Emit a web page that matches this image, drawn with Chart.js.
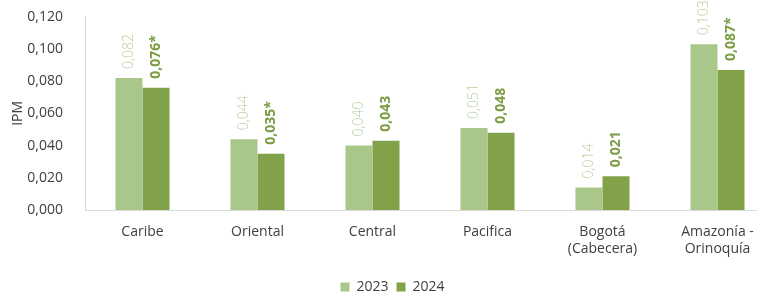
<!DOCTYPE html>
<html>
<head>
<meta charset="utf-8">
<script src="https://cdn.jsdelivr.net/npm/chart.js@4"></script>
<style>
  html, body { margin: 0; padding: 0; background: #fff; overflow: hidden; }
  #wrap { width: 775px; height: 295px; }
</style>
</head>
<body>
<div id="wrap"><canvas id="ipm-chart" width="775" height="295"></canvas></div>
<script>
// Regions and IPM values
var regions = ["Caribe", "Oriental", "Central", "Pacifica", ["Bogotá", "(Cabecera)"], ["Amazonía -", "Orinoquía"]];
var ipm2023 = [0.082, 0.044, 0.040, 0.051, 0.014, 0.103];
var ipm2024 = [0.076, 0.035, 0.043, 0.048, 0.021, 0.087];
// 2024 values flagged with an asterisk (significant change)
var signif2024 = [true, true, false, false, false, true];
var yTicks = [0, 0.02, 0.04, 0.06, 0.08, 0.1, 0.12];

var fontName = "'Open Sans', sans-serif";

function fmt(v) {
  return v.toFixed(3).replace(".", ",");
}

// Rotated value labels above each bar
var barLabels = {
  id: "barLabels",
  afterDatasetsDraw: function (chart) {
    var ctx = chart.ctx;
    chart.data.datasets.forEach(function (ds, i) {
      var meta = chart.getDatasetMeta(i);
      meta.data.forEach(function (bar, j) {
        var txt = fmt(ds.data[j]);
        if (i === 1 && signif2024[j]) txt += "*";
        ctx.save();
        ctx.translate(bar.x, bar.y - 9);
        ctx.rotate(-Math.PI / 2);
        ctx.textAlign = "left";
        ctx.textBaseline = "middle";
        if (i === 0) {
          ctx.font = "300 14px " + fontName;
          ctx.fillStyle = "#b7d09d";
        } else {
          ctx.font = "bold 14px " + fontName;
          ctx.fillStyle = "#7b9c42";
        }
        ctx.fillText(txt, 0, 0);
        ctx.restore();
      });
    });
  },
};

var ctx = document.getElementById("ipm-chart").getContext("2d");
var ipmChart = new Chart(ctx, {
  type: "bar",
  data: {
    labels: regions,
    datasets: [
      {
        label: "2023",
        data: ipm2023,
        backgroundColor: "#a9c78a",
        categoryPercentage: 0.47,
        barPercentage: 1.0,
      },
      {
        label: "2024",
        data: ipm2024,
        backgroundColor: "#82a24a",
        categoryPercentage: 0.47,
        barPercentage: 1.0,
      },
    ],
  },
  options: {
    responsive: false,
    animation: false,
    layout: {
      padding: { top: -2, left: 10, right: 0, bottom: -9 },
    },
    plugins: {
      legend: {
        position: "bottom",
        labels: {
          boxWidth: 9,
          boxHeight: 9,
          padding: 8,
          color: "#404040",
          font: { family: fontName, size: 14 },
        },
      },
      tooltip: { enabled: false },
    },
    scales: {
      x: {
        grid: { display: false },
        border: { display: true, color: "#d9d9d9" },
        ticks: {
          color: "#404040",
          font: { family: fontName, size: 14 },
          maxRotation: 0,
          padding: 6,
        },
        afterFit: function (scale) {
          scale.height = 62;
        },
      },
      y: {
        min: 0,
        max: 0.12,
        afterBuildTicks: function (scale) {
          scale.ticks = yTicks.map(function (v) { return { value: v }; });
        },
        grid: { display: false },
        border: { display: true, color: "#d9d9d9" },
        title: {
          display: true,
          text: "IPM",
          color: "#404040",
          font: { family: fontName, size: 14 },
          padding: { top: 0, bottom: 4 },
        },
        ticks: {
          color: "#404040",
          font: { family: fontName, size: 14, lineHeight: 0.4 },
          padding: 14,
          callback: function (v) { return fmt(v); },
        },
        afterFit: function (scale) {
          scale.width = 75;
        },
      },
    },
  },
  plugins: [barLabels],
});
</script>
</body>
</html>
